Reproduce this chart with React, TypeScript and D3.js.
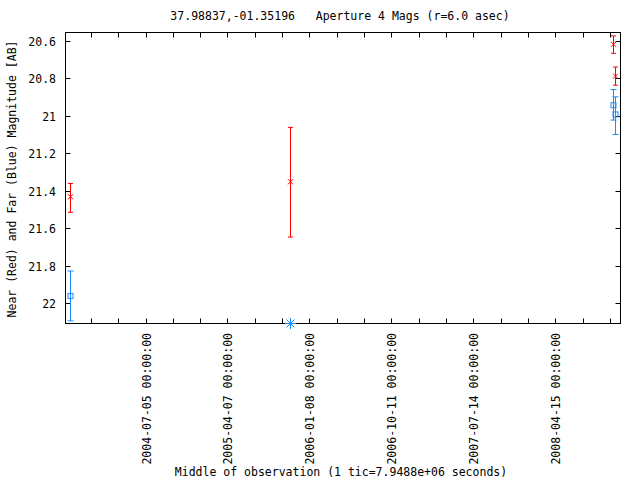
import * as d3 from 'd3';

// near aperture (red) points: date, magnitude, error bar ends
const nearDates = ['2003-10-24', '2005-11-03', '2008-10-28', '2008-11-04'];
const nearMag = [21.431, 21.351, 20.618, 20.788];
const nearLow = [21.36, 21.061, 20.573, 20.739];
const nearHigh = [21.514, 21.646, 20.666, 20.836];

// far aperture (blue) points
const farDates = ['2003-10-24', '2008-10-28', '2008-11-04'];
const farMag = [21.96, 20.943, 20.992];
const farLow = [21.827, 20.859, 20.898];
const farHigh = [22.093, 21.022, 21.099];

// far aperture limit (drawn as star on the bottom edge)
const limitDates = ['2005-11-03'];
const limitMag = [22.107];

const yTicks = [20.6, 20.8, 21, 21.2, 21.4, 21.6, 21.8, 22];
const yDomain = [20.555, 22.107];
const xDomain = ['2003-10-09T08:00:00Z', '2008-11-21T00:00:00Z'];
const ticStart = '2004-07-05';
const ticSeconds = 7.9488e6;
const tickLabels = [
  '2004-07-05 00:00:00',
  '2005-04-07 00:00:00',
  '2006-01-08 00:00:00',
  '2006-10-11 00:00:00',
  '2007-07-14 00:00:00',
  '2008-04-15 00:00:00',
];

const W = 640;
const H = 480;
const margin = { left: 65.5, right: 19.5, top: 32.5, bottom: 156.5 };
const RED = '#ff0000';
const BLUE = '#1a8cff';
const FONT = '"DejaVu Sans Mono", monospace';

const toDate = (s: string) => new Date(s.length === 10 ? s + 'T00:00:00Z' : s);

const App = () => {
  const x = d3.scaleUtc()
    .domain(xDomain.map(toDate))
    .range([margin.left, W - margin.right]);
  const y = d3.scaleLinear()
    .domain(yDomain)
    .range([margin.top, H - margin.bottom]);

  const x0 = margin.left, x1 = W - margin.right;
  const y0 = margin.top, y1 = H - margin.bottom;

  const ticMs = ticSeconds * 1000;
  const startMs = toDate(ticStart).getTime();
  const [dMin, dMax] = x.domain().map(d => d.getTime());
  const minorTicks: number[] = [];
  for (let k = Math.ceil((dMin - startMs) / ticMs); startMs + k * ticMs <= dMax; k++) {
    minorTicks.push(startMs + k * ticMs);
  }
  const labelTicks = tickLabels.map((lab, i) => ({ lab, t: startMs + 3 * i * ticMs }));

  const errBar = (xd: string, lo: number, hi: number, color: string, cap: number, key: string) => {
    const cx = Math.round(x(toDate(xd))) + 0.5;
    const ya = y(lo), yb = y(hi);
    return (
      <g key={key} stroke={color} strokeWidth={1}>
        <line x1={cx} x2={cx} y1={ya} y2={yb} />
        <line x1={cx - cap} x2={cx + cap} y1={ya} y2={ya} />
        <line x1={cx - cap} x2={cx + cap} y1={yb} y2={yb} />
      </g>
    );
  };

  return (
    <svg width={W} height={H} style={{ position: 'absolute', left: 0, top: 0, background: '#fff' }}>
      <rect x={0} y={0} width={W} height={H} fill="#fff" />

      {/* y ticks + labels */}
      {yTicks.map(t => {
        const yy = Math.round(y(t)) + 0.5;
        return (
          <g key={'y' + t}>
            <line x1={x0} x2={x0 + 5} y1={yy} y2={yy} stroke="#000" />
            <line x1={x1 - 5} x2={x1} y1={yy} y2={yy} stroke="#000" />
            <text x={56} y={yy} textAnchor="end" dominantBaseline="central"
              fontFamily={FONT} fontSize={11.5}>{d3.format('')(t)}</text>
          </g>
        );
      })}

      {/* x ticks */}
      {minorTicks.map(t => {
        const xx = Math.round(x(new Date(t))) + 0.5;
        return (
          <g key={'x' + t} stroke="#000">
            <line x1={xx} x2={xx} y1={y1} y2={y1 - 5} />
            <line x1={xx} x2={xx} y1={y0} y2={y0 + 5} />
          </g>
        );
      })}
      {labelTicks.map(({ lab, t }) => {
        const xx = Math.round(x(new Date(t))) + 0.5;
        return (
          <text key={lab} transform={`translate(${xx},333) rotate(-90)`} textAnchor="end"
            dominantBaseline="central" fontFamily={FONT} fontSize={11.5}>{lab}</text>
        );
      })}

      {/* frame */}
      <rect x={x0} y={y0} width={x1 - x0} height={y1 - y0} fill="none" stroke="#000" />

      {/* error bars */}
      {nearDates.map((d, i) => errBar(d, nearLow[i], nearHigh[i], RED, 2.5, 'ne' + i))}
      {farDates.map((d, i) => errBar(d, farLow[i], farHigh[i], BLUE, 3, 'fe' + i))}

      {/* near markers: crosses */}
      {nearDates.map((d, i) => {
        const cx = Math.round(x(toDate(d))) + 0.5, cy = y(nearMag[i]);
        return (
          <path key={'nm' + i} d={`M${cx - 2.5},${cy - 2.5}L${cx + 2.5},${cy + 2.5}M${cx - 2.5},${cy + 2.5}L${cx + 2.5},${cy - 2.5}`}
            stroke={RED} fill="none" />
        );
      })}

      {/* far markers: open squares */}
      {farDates.map((d, i) => {
        const cx = Math.round(x(toDate(d))) + 0.5, cy = y(farMag[i]);
        return <rect key={'fm' + i} x={cx - 2.5} y={cy - 2.5} width={5} height={5} fill="none" stroke={BLUE} />;
      })}

      {/* limit marker: asterisk */}
      {limitDates.map((d, i) => {
        const cx = Math.round(x(toDate(d))) + 0.5, cy = y(limitMag[i]);
        const r = 5.5, q = 4;
        return (
          <path key={'lm' + i}
            d={`M${cx - r},${cy}L${cx + r},${cy}M${cx},${cy - r}L${cx},${cy + r}M${cx - q},${cy - q}L${cx + q},${cy + q}M${cx - q},${cy + q}L${cx + q},${cy - q}`}
            stroke={BLUE} fill="none" />
        );
      })}

      {/* titles */}
      <text x={340} y={16} textAnchor="middle" dominantBaseline="central" fontFamily={FONT} fontSize={11.5}
        style={{ whiteSpace: 'pre' }}>
        {'37.98837,-01.35196   Aperture 4 Mags (r=6.0 asec)'}
      </text>
      <text x={341} y={472} textAnchor="middle" dominantBaseline="central" fontFamily={FONT} fontSize={11.5}>
        Middle of observation (1 tic=7.9488e+06 seconds)
      </text>
      <text transform="translate(12,179) rotate(-90)" textAnchor="middle" dominantBaseline="central"
        fontFamily={FONT} fontSize={11.5}>
        Near (Red) and Far (Blue) Magnitude [AB]
      </text>
    </svg>
  );
};

export default App;
